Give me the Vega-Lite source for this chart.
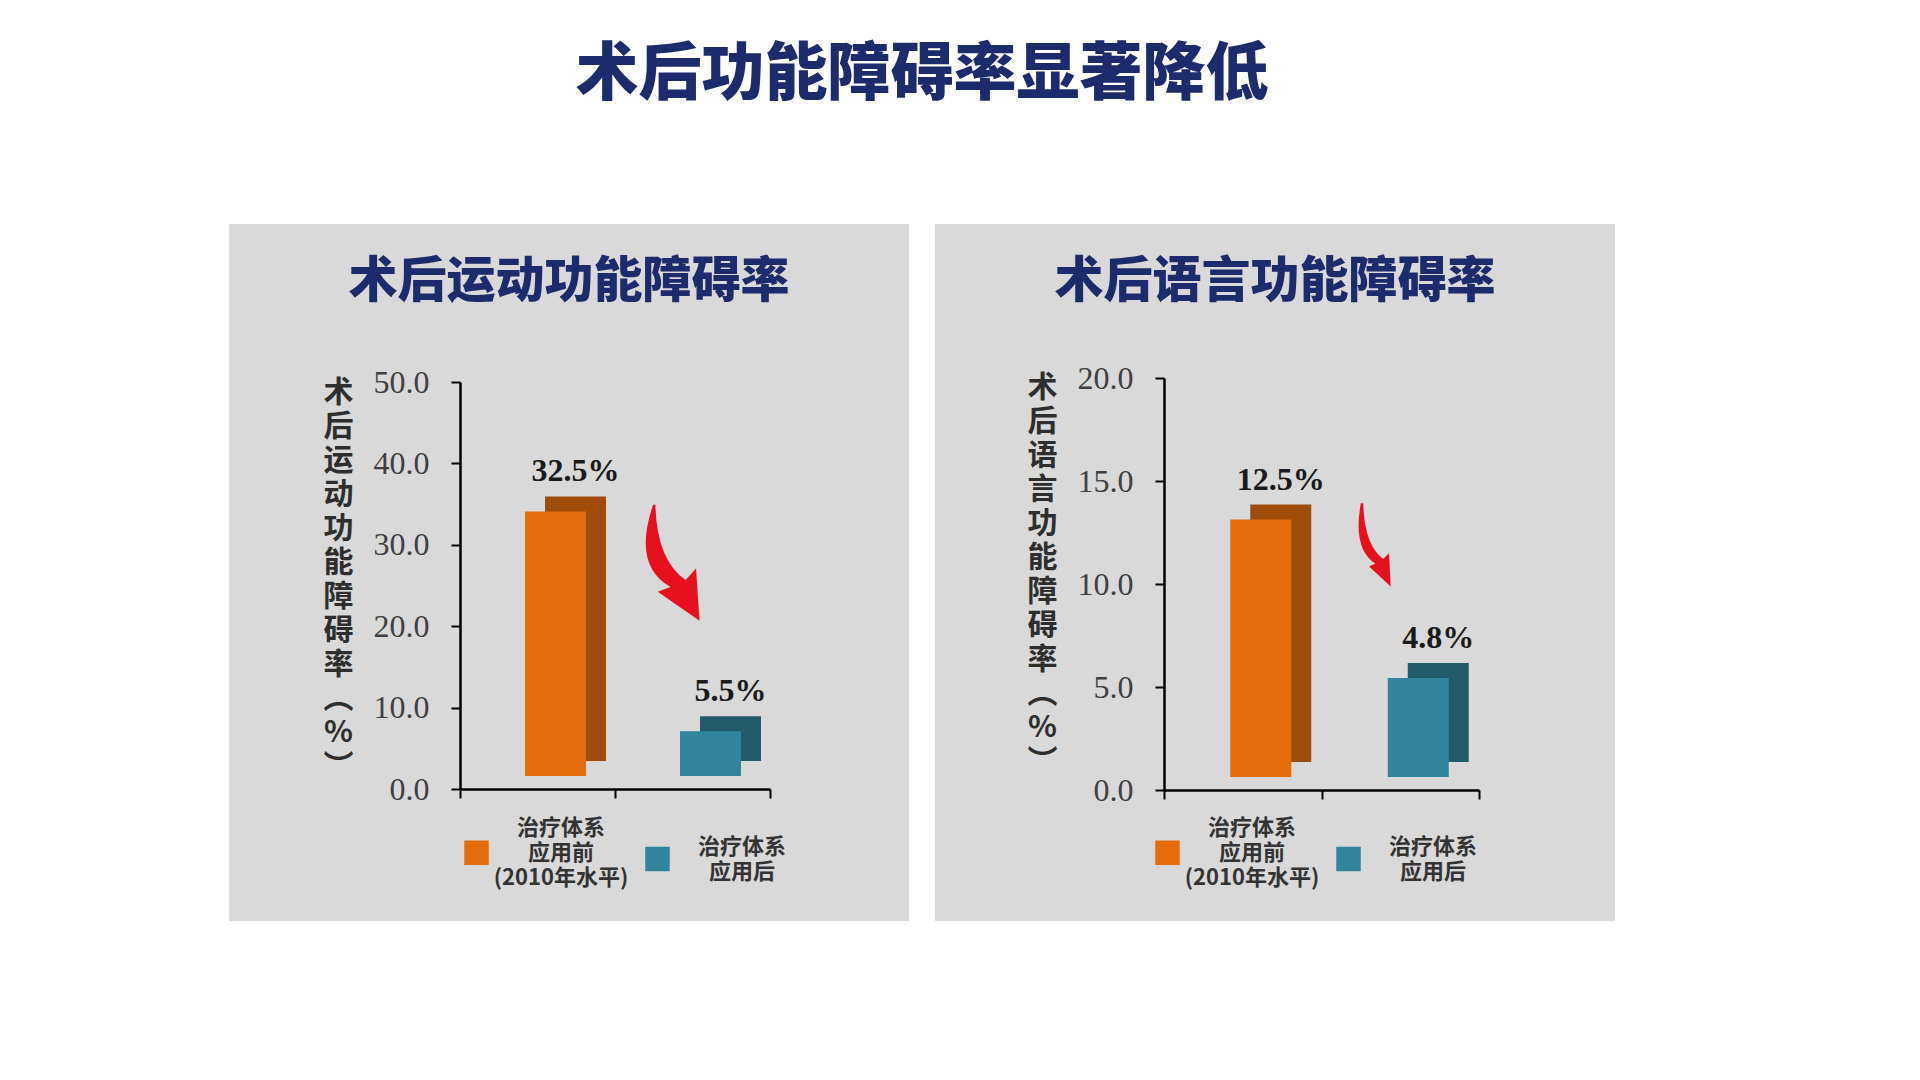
{
  "$schema": "https://vega.github.io/schema/vega-lite/v6.json",
  "background": "#ffffff",
  "padding": {"left": 229, "top": 44, "right": 0, "bottom": 0},
  "autosize": {"type": "pad"},
  "title": {"text": "术后功能障碍率显著降低", "fontSize": 63, "font": "Noto Sans CJK SC", "fontWeight": 900, "color": "#1c2b6b", "anchor": "middle", "offset": 117},
  "config": {
    "view": {"fill": "#d9d9d9", "stroke": null},
    "font": "Noto Sans CJK SC"
  },
  "spacing": 26,
  "resolve": {"scale": {"y": "independent", "x": "independent", "color": "independent"}, "legend": {"color": "independent"}},
  "hconcat": [
    {
      "width": 680,
      "height": 697,
      "title": {"text": "术后运动功能障碍率", "fontSize": 49, "fontWeight": 900, "color": "#1c2b6b", "offset": -107, "baseline": "middle", "anchor": "middle", "frame": "group"},
      "data": {"values": [
        {"group": "治疗体系应用前（2010年水平）", "rate": 32.5, "label": "32.5%"},
        {"group": "治疗体系应用后", "rate": 5.5, "label": "5.5%"}
      ]},
      "encoding": {
        "x": {"field": "group", "type": "nominal", "sort": null,
          "scale": {"range": [231, 541], "paddingInner": 0, "paddingOuter": 0},
          "axis": {"labels": false, "title": null, "domainColor": "#000000", "domainWidth": 2.5, "tickColor": "#000000", "tickWidth": 2, "tickSize": 9, "tickBand": "extent", "offset": -132}},
        "y": {"field": "rate", "type": "quantitative",
          "scale": {"domain": [0, 50], "range": [565, 158], "nice": false, "zero": true},
          "axis": {"values": [0, 10, 20, 30, 40, 50], "format": ".1f", "labelFont": "Liberation Serif", "labelFontSize": 32, "labelColor": "#404040", "labelPadding": 22, "tickSize": 9, "tickColor": "#000000", "tickWidth": 2, "domainColor": "#000000", "domainWidth": 2.5, "grid": false, "offset": -231,
            "title": ["术", "后", "运", "动", "功", "能", "障", "碍", "率", "︵", "%", "︶"],
            "titleAngle": 0, "titleFontSize": 30, "titleLineHeight": 34, "titleColor": "#2e2e2e", "titleFontWeight": "bold", "titleAlign": "center", "titleBaseline": "top", "titleX": -122, "titleY": 153}}
      },
      "layer": [
        {"mark": {"type": "bar", "width": 61, "xOffset": 38, "yOffset": -28, "y2Offset": -28},
         "encoding": {"color": {"condition": {"test": "datum.group == '治疗体系应用后'", "value": "#215a69"}, "value": "#a04c0b"}}},
        {"mark": {"type": "bar", "width": 61, "xOffset": 18, "yOffset": -13, "y2Offset": -13},
         "encoding": {"color": {"field": "group", "type": "nominal", "sort": null,
           "scale": {"range": ["#e46c0a", "#31859c"]},
           "legend": {"orient": "none", "legendX": 235, "legendY": 616, "direction": "horizontal", "columns": 2, "title": null,
             "symbolType": "square", "symbolSize": 600, "symbolStrokeWidth": 0,
             "labelExpr": "datum.label == '治疗体系应用后' ? ['治疗体系', '应用后'] : ['治疗体系', '应用前', '(2010年水平)']",
             "labelFont": "Noto Sans CJK SC", "labelFontSize": 22, "labelFontWeight": "bold", "labelColor": "#333333", "labelAlign": "center", "labelOffset": 72, "columnPadding": 16, "labelLimit": 300,
             "encoding": {"labels": {"lineHeight": {"value": 25}, "dy": {"condition": {"test": "datum.value == '治疗体系应用后'", "value": -12.5}, "value": -25}}}}}}},
        {"mark": {"type": "text", "font": "Liberation Serif", "fontSize": 32, "fontWeight": "bold", "color": "#1a1a1a", "baseline": "alphabetic", "dy": -43, "dx": 38},
         "encoding": {"text": {"field": "label"}}},
        {"data": {"values": [{"group": "治疗体系应用后", "rate": 27.8}]},
         "mark": {"type": "point", "filled": true, "color": "#e8101c", "opacity": 1, "size": 13456, "xOffset": -22,
           "shape": "M -0.3 -1 Q -0.66 0.05 0.0 0.42 L -0.22 0.5 L 0.5 1 L 0.44 0.1 L 0.26 0.3 Q -0.24 -0.05 -0.26 -1 Z"}}
      ]
    },
    {
      "width": 680,
      "height": 697,
      "title": {"text": "术后语言功能障碍率", "fontSize": 49, "fontWeight": 900, "color": "#1c2b6b", "offset": -107, "baseline": "middle", "anchor": "middle", "frame": "group"},
      "data": {"values": [
        {"group": "治疗体系应用前（2010年水平）", "rate": 12.5, "label": "12.5%"},
        {"group": "治疗体系应用后", "rate": 4.8, "label": "4.8%"}
      ]},
      "encoding": {
        "x": {"field": "group", "type": "nominal", "sort": null,
          "scale": {"range": [229, 544], "paddingInner": 0, "paddingOuter": 0},
          "axis": {"labels": false, "title": null, "domainColor": "#000000", "domainWidth": 2.5, "tickColor": "#000000", "tickWidth": 2, "tickSize": 9, "tickBand": "extent", "offset": -131}},
        "y": {"field": "rate", "type": "quantitative",
          "scale": {"domain": [0, 20], "range": [566, 154], "nice": false, "zero": true},
          "axis": {"values": [0, 5, 10, 15, 20], "format": ".1f", "labelFont": "Liberation Serif", "labelFontSize": 32, "labelColor": "#404040", "labelPadding": 22, "tickSize": 9, "tickColor": "#000000", "tickWidth": 2, "domainColor": "#000000", "domainWidth": 2.5, "grid": false, "offset": -229,
            "title": ["术", "后", "语", "言", "功", "能", "障", "碍", "率", "︵", "%", "︶"],
            "titleAngle": 0, "titleFontSize": 30, "titleLineHeight": 34, "titleColor": "#2e2e2e", "titleFontWeight": "bold", "titleAlign": "center", "titleBaseline": "top", "titleX": -122, "titleY": 148}}
      },
      "layer": [
        {"mark": {"type": "bar", "width": 61, "xOffset": 38, "yOffset": -28, "y2Offset": -28},
         "encoding": {"color": {"condition": {"test": "datum.group == '治疗体系应用后'", "value": "#215a69"}, "value": "#a04c0b"}}},
        {"mark": {"type": "bar", "width": 61, "xOffset": 18, "yOffset": -13, "y2Offset": -13},
         "encoding": {"color": {"field": "group", "type": "nominal", "sort": null,
           "scale": {"range": ["#e46c0a", "#31859c"]},
           "legend": {"orient": "none", "legendX": 220, "legendY": 616, "direction": "horizontal", "columns": 2, "title": null,
             "symbolType": "square", "symbolSize": 600, "symbolStrokeWidth": 0,
             "labelExpr": "datum.label == '治疗体系应用后' ? ['治疗体系', '应用后'] : ['治疗体系', '应用前', '(2010年水平)']",
             "labelFont": "Noto Sans CJK SC", "labelFontSize": 22, "labelFontWeight": "bold", "labelColor": "#333333", "labelAlign": "center", "labelOffset": 72, "columnPadding": 16, "labelLimit": 300,
             "encoding": {"labels": {"lineHeight": {"value": 25}, "dy": {"condition": {"test": "datum.value == '治疗体系应用后'", "value": -12.5}, "value": -25}}}}}}},
        {"mark": {"type": "text", "font": "Liberation Serif", "fontSize": 32, "fontWeight": "bold", "color": "#1a1a1a", "baseline": "alphabetic", "dy": -43, "dx": 38},
         "encoding": {"text": {"field": "label"}}},
        {"data": {"values": [{"group": "治疗体系应用后", "rate": 11.9}]},
         "mark": {"type": "point", "filled": true, "color": "#e8101c", "opacity": 1, "size": 6900, "xOffset": -27,
           "shape": "M -0.3 -1 Q -0.5 0.1 0.05 0.45 L -0.1 0.52 L 0.42 1 L 0.38 0.2 L 0.24 0.34 Q -0.22 0.0 -0.24 -1 Z"}}
      ]
    }
  ]
}
